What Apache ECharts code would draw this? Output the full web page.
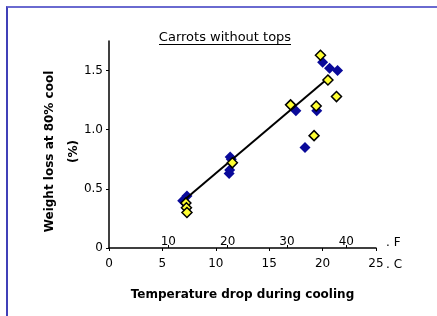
<!DOCTYPE html>
<html>
<head>
<meta charset="utf-8">
<script src="https://cdn.jsdelivr.net/npm/echarts@6/dist/echarts.min.js"></script>
<style>
html,body{margin:0;padding:0;background:#fff;}
#chart{position:absolute;left:0;top:0;width:437px;height:316px;}
#frame{position:absolute;left:6px;top:6px;width:431px;height:310px;border-top:2px solid #6a6ad0;border-left:2px solid #4040b8;box-sizing:border-box;pointer-events:none;}
</style>
</head>
<body>
<div id="chart"></div>
<div id="frame"></div>
<script>
var titleText = "Carrots without tops";
var yAxisName = "Weight loss at 80% cool\n(%)";
var xAxisName = "Temperature drop during cooling";
var unitNames = "\n. F\n\n. C";
var cTicks = [0, 5, 10, 15, 20, 25];
var fTicks = [10, 20, 30, 40];
var yTicks = [0, 0.5, 1.0, 1.5];

var blueX = [6.9, 7.3, 11.35, 11.45, 11.25, 11.3, 17.5, 18.35, 19.45, 20.0, 20.65, 21.4];
var blueY = [0.40, 0.44, 0.77, 0.75, 0.63, 0.66, 1.16, 0.85, 1.16, 1.57, 1.52, 1.50];
var yellowX = [7.2, 7.25, 7.3, 11.55, 17.0, 19.4, 19.2, 19.8, 20.5, 21.3];
var yellowY = [0.38, 0.34, 0.30, 0.72, 1.21, 1.20, 0.95, 1.63, 1.42, 1.28];
var fitX = [7.1, 20.7];
var fitY = [0.41, 1.45];

function pairs(xs, ys){ return xs.map(function(x,i){ return [x, ys[i]]; }); }

var chart = echarts.init(document.getElementById('chart'), null, {renderer:'canvas'});
var font = 'DejaVu Sans, sans-serif';
chart.setOption({
  animation: false,
  textStyle: {fontFamily: font},
  title: {
    text: titleText,
    left: 225, top: 31, textAlign: 'center', padding: 0,
    textStyle: {fontSize: 13, fontWeight: 'normal', color: '#000', fontFamily: font}
  },
  graphic: [{
    type: 'line', shape: {x1: 159, y1: 44.5, x2: 291, y2: 44.5},
    style: {stroke: '#000', lineWidth: 1}
  }],
  grid: {left: 109, right: 61, top: 41, bottom: 68, containLabel: false},
  xAxis: [{
    type: 'value', min: 0, max: 25, interval: 5, position: 'bottom',
    name: unitNames, nameLocation: 'end', nameGap: 10, nameMoveOverlap: false,
    nameTextStyle: {fontSize: 12, lineHeight: 11, color: '#000', fontFamily: font},
    axisLine: {show: true, lineStyle: {color: '#000', width: 1.5}},
    axisTick: {show: true, length: 3, lineStyle: {color: '#000'}, customValues: cTicks},
    axisLabel: {fontSize: 12, color: '#000', margin: 10, customValues: cTicks, fontFamily: font},
    splitLine: {show: false}
  }, {
    type: 'value', min: 0, max: 45, position: 'bottom', offset: 0,
    name: xAxisName, nameLocation: 'middle', nameGap: 41, nameMoveOverlap: false,
    nameTextStyle: {fontSize: 12, fontWeight: 'bold', color: '#000', fontFamily: font},
    axisLine: {show: false},
    axisTick: {show: true, inside: true, length: 3, lineStyle: {color: '#000'}, customValues: fTicks},
    axisLabel: {inside: true, fontSize: 12, color: '#000', margin: 0, customValues: fTicks, fontFamily: font},
    splitLine: {show: false}
  }],
  yAxis: {
    type: 'value', min: 0, max: 1.75,
    name: yAxisName, nameLocation: 'middle', nameGap: 23, nameRotate: 90, nameMoveOverlap: false,
    nameTextStyle: {fontSize: 12, fontWeight: 'bold', color: '#000', lineHeight: 24, fontFamily: font, padding: [0,14,0,0]},
    axisLine: {show: true, lineStyle: {color: '#000', width: 1.5}},
    axisTick: {show: true, length: 3, lineStyle: {color: '#000'}, customValues: yTicks},
    axisLabel: {fontSize: 12, color: '#000', margin: 6, customValues: yTicks, fontFamily: font,
      formatter: function(v){ return v === 0 ? '0' : v.toFixed(1); }},
    splitLine: {show: false}
  },
  series: [{
    type: 'scatter', xAxisIndex: 0, data: pairs(blueX, blueY),
    symbol: 'diamond', symbolSize: 11,
    itemStyle: {color: '#0a0a9a', opacity: 1}, z: 2
  }, {
    type: 'line', xAxisIndex: 0, data: pairs(fitX, fitY),
    showSymbol: false, symbol: 'none',
    lineStyle: {color: '#000', width: 2}, z: 3
  }, {
    type: 'scatter', xAxisIndex: 0, data: pairs(yellowX, yellowY),
    symbol: 'diamond', symbolSize: 10,
    itemStyle: {color: '#ffff33', borderColor: '#000', borderWidth: 1.5, opacity: 1}, z: 4
  }]
});
</script>
</body>
</html>
